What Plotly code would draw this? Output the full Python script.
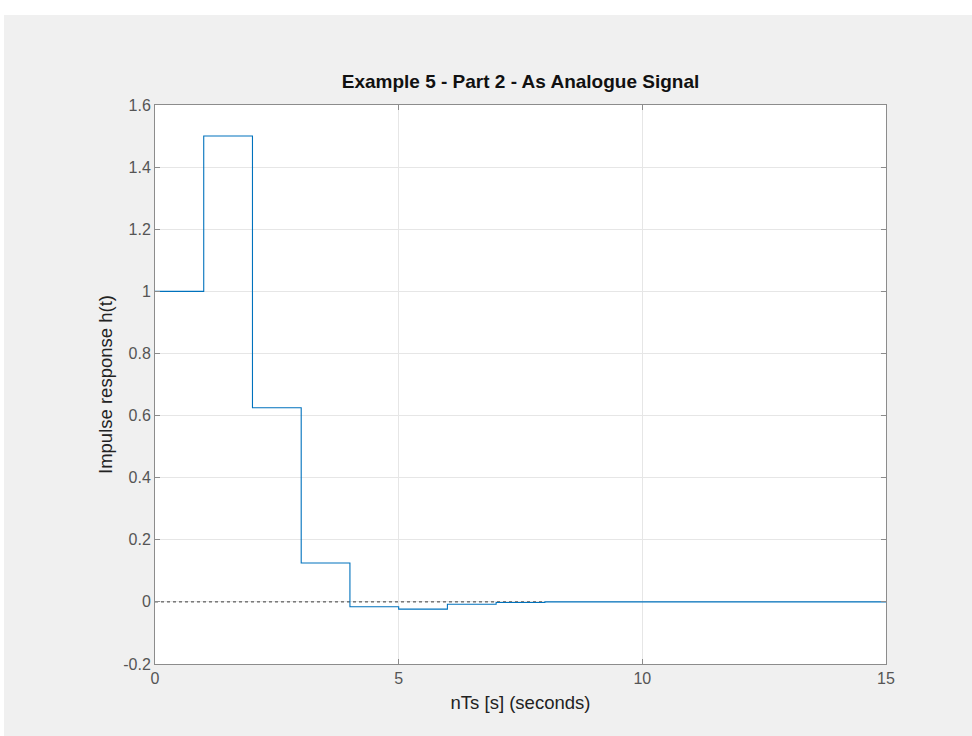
import plotly.graph_objects as go

# Sample index n (seconds, Ts = 1) and impulse response values h[n]
n = list(range(16))
h = [1.0, 1.5, 0.625, 0.125, -0.015625, -0.0234375, -0.0078125, -0.0019531,
     0.0, 0.0, 0.0, 0.0, 0.0, 0.0, 0.0, 0.0]

# Zero reference line extent
zero_x = [0, 8]
zero_y = [0, 0]

x_ticks = [0, 5, 10, 15]
y_ticks = [-0.2, 0, 0.2, 0.4, 0.6, 0.8, 1.0, 1.2, 1.4, 1.6]
y_tick_text = ["-0.2", "0", "0.2", "0.4", "0.6", "0.8", "1", "1.2", "1.4", "1.6"]

W, H = 972, 736
L, R, T, B = 155, 86, 105, 72
pw, ph = W - L - R, H - T - B
FONT = "Liberation Sans, Arial, sans-serif"

fig = go.Figure()
fig.add_trace(go.Scatter(x=zero_x, y=zero_y, mode="lines",
                         line=dict(color="#3a3a3a", width=1, dash="dot"),
                         hoverinfo="skip", showlegend=False))
fig.add_trace(go.Scatter(x=n, y=h, mode="lines", line_shape="hv",
                         line=dict(color="#0072BD", width=1.1),
                         showlegend=False))

axis_common = dict(showline=True, mirror="ticks", linecolor="#8c8c8c", linewidth=1,
                   ticks="inside", ticklen=5, tickcolor="#8c8c8c",
                   showgrid=True, gridcolor="#e6e6e6", gridwidth=1, zeroline=False,
                   tickfont=dict(family=FONT, size=16, color="#555555"))

fig.update_xaxes(range=[0, 15], tickvals=x_ticks, ticktext=[str(v) for v in x_ticks],
                 title=dict(text="nTs [s] (seconds)", standoff=9,
                            font=dict(family=FONT, size=18.5, color="#222222")),
                 **axis_common)
fig.update_yaxes(range=[-0.2, 1.6], tickvals=y_ticks, ticktext=y_tick_text,
                 title=dict(text="Impulse response h(t)", standoff=5,
                            font=dict(family=FONT, size=18.5, color="#222222")),
                 **axis_common)

# White strips framing the grey figure panel (top and left edges)
fig.add_shape(type="rect", xref="paper", yref="paper",
              x0=-L / pw - 0.01, x1=(W - L) / pw + 0.01,
              y0=(H - B - 15) / ph, y1=(H - B) / ph + 0.01,
              fillcolor="white", line_width=0, layer="below")
fig.add_shape(type="rect", xref="paper", yref="paper",
              x0=-L / pw - 0.01, x1=(4 - L) / pw,
              y0=-B / ph - 0.01, y1=(H - B) / ph + 0.01,
              fillcolor="white", line_width=0, layer="below")

fig.update_layout(
    width=W, height=H,
    margin=dict(l=L, r=R, t=T, b=B, pad=0),
    paper_bgcolor="#f0f0f0", plot_bgcolor="white",
    title=dict(text="<b>Example 5 - Part 2 - As Analogue Signal</b>",
               x=0.5, xref="paper", xanchor="center",
               y=1 - 81 / H, yref="container", yanchor="middle",
               font=dict(family=FONT, size=19, color="#111111")),
)

fig.write_html("out.html")
